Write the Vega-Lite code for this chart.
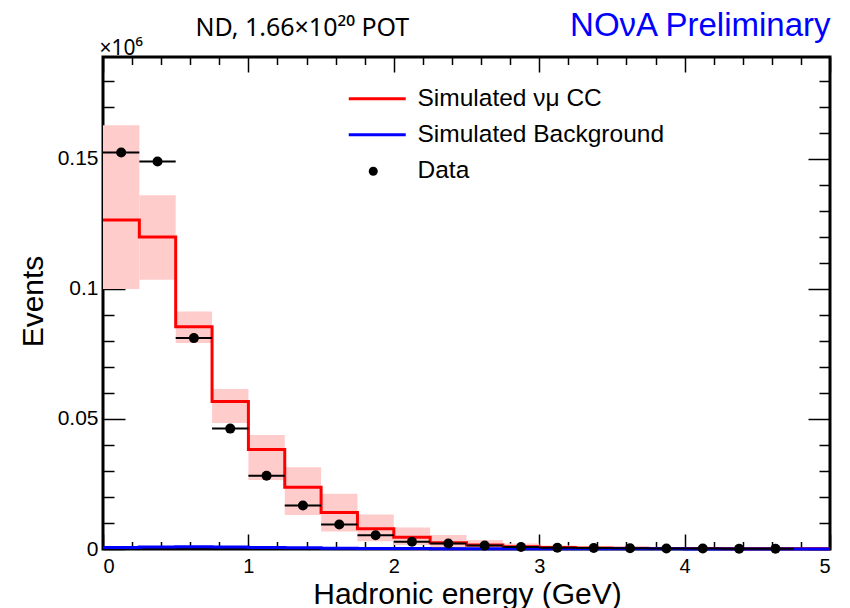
{
  "$schema": "https://vega.github.io/schema/vega-lite/v6.json",
  "width": 727,
  "height": 492,
  "autosize": {"type": "none"},
  "padding": {"left": 103, "top": 57, "right": 20, "bottom": 59},
  "background": "white",
  "config": {
    "font": "Liberation Sans",
    "view": {"stroke": "black", "strokeWidth": 3},
    "axis": {"grid": false, "domain": false, "tickColor": "black", "tickWidth": 1.5, "labelColor": "black", "titleColor": "black", "labelFont": "Liberation Sans", "titleFont": "Liberation Sans", "titleFontWeight": "normal"},
    "legend": {"labelFont": "Liberation Sans", "labelFontSize": 24.5, "labelColor": "black", "padding": 0, "titlePadding": 0, "labelLimit": 400}
  },
  "datasets": {
    "bins": [
      {"lo": 0.0, "hi": 0.25, "e": 0.125, "mc": 0.1265, "bLo": 0.100, "bHi": 0.163, "bkg": 0.0006, "data": 0.1525},
      {"lo": 0.25, "hi": 0.5, "e": 0.375, "mc": 0.1200, "bLo": 0.1035, "bHi": 0.136, "bkg": 0.0008, "data": 0.1490},
      {"lo": 0.5, "hi": 0.75, "e": 0.625, "mc": 0.0855, "bLo": 0.0792, "bHi": 0.0913, "bkg": 0.0009, "data": 0.0811},
      {"lo": 0.75, "hi": 1.0, "e": 0.875, "mc": 0.0567, "bLo": 0.0485, "bHi": 0.0615, "bkg": 0.0008, "data": 0.0463},
      {"lo": 1.0, "hi": 1.25, "e": 1.125, "mc": 0.0383, "bLo": 0.0265, "bHi": 0.0438, "bkg": 0.0006, "data": 0.0282},
      {"lo": 1.25, "hi": 1.5, "e": 1.375, "mc": 0.0237, "bLo": 0.0131, "bHi": 0.0314, "bkg": 0.0005, "data": 0.0167},
      {"lo": 1.5, "hi": 1.75, "e": 1.625, "mc": 0.0140, "bLo": 0.0067, "bHi": 0.0212, "bkg": 0.0003, "data": 0.0094},
      {"lo": 1.75, "hi": 2.0, "e": 1.875, "mc": 0.0078, "bLo": 0.0030, "bHi": 0.0133, "bkg": 0.0002, "data": 0.0053},
      {"lo": 2.0, "hi": 2.25, "e": 2.125, "mc": 0.0045, "bLo": 0.0015, "bHi": 0.0083, "bkg": 0.00015, "data": 0.0028},
      {"lo": 2.25, "hi": 2.5, "e": 2.375, "mc": 0.0024, "bLo": 0.0007, "bHi": 0.0054, "bkg": 0.0001, "data": 0.0021},
      {"lo": 2.5, "hi": 2.75, "e": 2.625, "mc": 0.0015, "bLo": 0.0003, "bHi": 0.0035, "bkg": 0.0001, "data": 0.0013},
      {"lo": 2.75, "hi": 3.0, "e": 2.875, "mc": 0.0009, "bLo": 0.0001, "bHi": 0.0021, "bkg": 0.0001, "data": 0.0008},
      {"lo": 3.0, "hi": 3.25, "e": 3.125, "mc": 0.0006, "bLo": 0.0001, "bHi": 0.0013, "bkg": 0.0001, "data": 0.0005},
      {"lo": 3.25, "hi": 3.5, "e": 3.375, "mc": 0.0004, "bLo": 0.0, "bHi": 0.0009, "bkg": 0.00008, "data": 0.0004},
      {"lo": 3.5, "hi": 3.75, "e": 3.625, "mc": 0.0003, "bLo": 0.0, "bHi": 0.0006, "bkg": 0.00006, "data": 0.0003},
      {"lo": 3.75, "hi": 4.0, "e": 3.875, "mc": 0.0002, "bLo": 0.0, "bHi": 0.0004, "bkg": 0.00005, "data": 0.0002},
      {"lo": 4.0, "hi": 4.25, "e": 4.125, "mc": 0.00015, "bLo": 0.0, "bHi": 0.0003, "bkg": 0.00004, "data": 0.0002},
      {"lo": 4.25, "hi": 4.5, "e": 4.375, "mc": 0.0001, "bLo": 0.0, "bHi": 0.0002, "bkg": 0.00003, "data": 0.0001},
      {"lo": 4.5, "hi": 4.75, "e": 4.625, "mc": 0.0001, "bLo": 0.0, "bHi": 0.0002, "bkg": 0.00003, "data": 0.0001},
      {"lo": 4.75, "hi": 5.0, "e": 4.875, "mc": 0.00008, "bLo": 0.0, "bHi": 0.00015, "bkg": 0.00002, "data": null}
    ]
  },
  "data": {"name": "bins"},
  "resolve": {"axis": {"x": "independent", "y": "independent"}},
  "layer": [
    {
      "mark": {"type": "rect", "color": "#ffcccc", "strokeWidth": 0},
      "encoding": {
        "x": {"field": "lo", "type": "quantitative", "scale": {"domain": [0, 5], "nice": false, "zero": false},
          "axis": {"orient": "bottom", "values": [0, 1, 2, 3, 4, 5], "format": "d", "tickSize": -15, "labelFontSize": 20, "labelPadding": 22, "labelBaseline": "top",
            "title": "Hadronic energy (GeV)", "titleFontSize": 30, "titleX": 364, "titleY": 54, "titleAlign": "center", "titleBaseline": "alphabetic", "titleAnchor": null}},
        "x2": {"field": "hi"},
        "y": {"field": "bLo", "type": "quantitative", "scale": {"domain": [0, 0.1892], "nice": false, "zero": true},
          "axis": {"orient": "left", "values": [0, 0.05, 0.1, 0.15], "format": "~g", "tickSize": -22, "labelFontSize": 21, "labelPadding": 27,
            "title": "Events", "titleFontSize": 30, "titleAngle": -90, "titleX": -61, "titleY": 244, "titleAlign": "center", "titleBaseline": "alphabetic"}},
        "y2": {"field": "bHi"}
      }
    },
    {
      "transform": [
        {"fold": ["mc", "bkg"], "as": ["series", "val"]},
        {"fold": ["lo", "hi"], "as": ["edge", "ex"]}
      ],
      "mark": {"type": "line", "strokeWidth": 3, "interpolate": "linear"},
      "encoding": {
        "x": {"field": "ex", "type": "quantitative",
          "axis": {"orient": "bottom", "values": [0.2,0.4,0.6,0.8,1.2,1.4,1.6,1.8,2.2,2.4,2.6,2.8,3.2,3.4,3.6,3.8,4.2,4.4,4.6,4.8], "labels": false, "tickSize": -7.5, "title": null}},
        "y": {"field": "val", "type": "quantitative",
          "axis": {"orient": "left", "values": [0.01,0.02,0.03,0.04,0.06,0.07,0.08,0.09,0.11,0.12,0.13,0.14,0.16,0.17,0.18], "labels": false, "tickSize": -11,
            "title": "×10⁶", "titleFont": "Noto Sans", "titleFontSize": 21, "titleAngle": 0, "titleX": -4, "titleY": -3, "titleAlign": "left", "titleBaseline": "alphabetic"}},
        "color": {"field": "series", "type": "nominal",
          "scale": {"domain": ["mc", "bkg"], "range": ["#ff0000", "#0000ff"]},
          "legend": {"orient": "none", "legendX": 262, "legendY": 29.5, "title": null, "symbolType": "M-3,0H3", "symbolSize": 361, "symbolStrokeWidth": 3, "labelOffset": 28, "rowPadding": 11,
            "labelExpr": "datum.label == 'mc' ? 'Simulated νμ CC' : 'Simulated Background'"}},
        "order": [{"field": "lo", "type": "quantitative"}, {"field": "edge", "type": "nominal", "sort": "descending"}]
      }
    },
    {
      "mark": {"type": "rule", "color": "black", "strokeWidth": 2},
      "encoding": {
        "x": {"field": "lo", "type": "quantitative",
          "axis": {"orient": "top", "values": [0, 1, 2, 3, 4, 5], "labels": false, "tickSize": -15,
            "title": "NOνA Preliminary", "titleFontSize": 33, "titleColor": "#0000ff", "titleX": 727, "titleY": -22, "titleAlign": "right", "titleBaseline": "alphabetic"}},
        "x2": {"field": "hi"},
        "y": {"field": "data", "type": "quantitative",
          "axis": {"orient": "right", "values": [0, 0.05, 0.1, 0.15], "labels": false, "tickSize": -22, "title": null}}
      }
    },
    {
      "mark": {"type": "point", "filled": true, "color": "black", "size": 100, "opacity": 1},
      "encoding": {
        "x": {"field": "e", "type": "quantitative",
          "axis": {"orient": "top", "values": [0.2,0.4,0.6,0.8,1.2,1.4,1.6,1.8,2.2,2.4,2.6,2.8,3.2,3.4,3.6,3.8,4.2,4.4,4.6,4.8], "labels": false, "tickSize": -7.5,
            "title": "ND, 1.66×10²⁰ POT", "titleFont": "Noto Sans", "titleFontSize": 25, "titleX": 92, "titleY": -22, "titleAlign": "left", "titleBaseline": "alphabetic"}},
        "y": {"field": "data", "type": "quantitative",
          "axis": {"orient": "right", "values": [0.01,0.02,0.03,0.04,0.06,0.07,0.08,0.09,0.11,0.12,0.13,0.14,0.16,0.17,0.18], "labels": false, "tickSize": -11, "title": null}},
        "shape": {"datum": "Data", "scale": {"domain": ["Data"], "range": ["circle"]},
          "legend": {"orient": "none", "legendX": 258, "legendY": 102, "title": null, "symbolSize": 81, "symbolFillColor": "black", "symbolStrokeColor": "black", "labelOffset": 32}}
      }
    }
  ]
}
